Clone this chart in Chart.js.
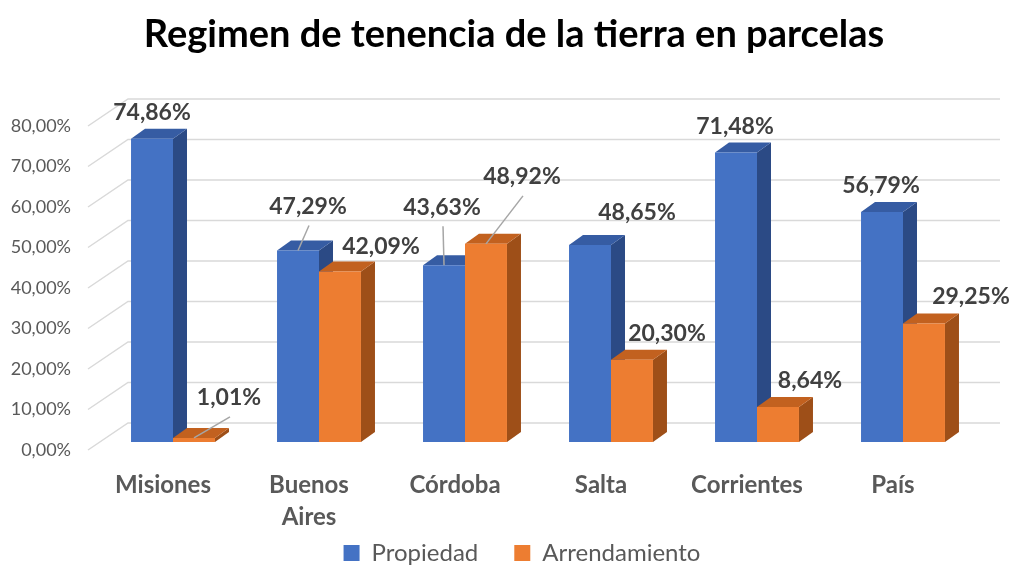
<!DOCTYPE html>
<html lang="es">
<head>
  <meta charset="UTF-8">
  <title>Regimen de tenencia de la tierra en parcelas</title>
  <style>
    body { margin: 0; background: #ffffff; }
    #wrap { width: 1015px; height: 566px; }
  </style>
  <script src="https://cdn.jsdelivr.net/npm/chart.js"></script>
</head>
<body>
  <div id="wrap"><canvas id="chart" width="1015" height="566"></canvas></div>
  <script>
    // data
    const provincias = ['Misiones', ['Buenos', 'Aires'], 'Córdoba', 'Salta', 'Corrientes', 'País'];
    const propiedad = [74.86, 47.29, 43.63, 48.65, 71.48, 56.79];
    const arrendamiento = [1.01, 42.09, 48.92, 20.30, 8.64, 29.25];
    const yTicks = [0, 10, 20, 30, 40, 50, 60, 70, 80];

    // where the data labels were dragged in the original (offset from bar top, px)
    const labelShift = [
      [[0, -26], [10, -44], [-2, -58], [47, -32], [-1, -26], [-1, -26]],
      [[35, -40], [41, -25], [36, -67], [35, -26], [32, -26], [47, -27]]
    ];
    const leader = [
      [false, true, true, false, false, false],
      [true, false, true, false, false, false]
    ];

    const FONT = 'Lato, "Open Sans", sans-serif';
    const DEPTH_X = 14, DEPTH_Y = -10;     // bar depth
    const WALL_X = 28, WALL_Y = -19;       // bar plane -> back wall
    const FRONT_X = -12, FRONT_Y = 8;      // bar plane -> front edge

    const faceColors = [
      { top: '#365ca3', side: '#2b4a85' },
      { top: '#c2611f', side: '#9e4f18' }
    ];

    const fmt = v => v.toFixed(2).replace('.', ',') + '%';

    const fake3d = {
      id: 'fake3d',
      afterLayout(chart) {
        // title and legend sit a bit right of centre in the original,
        // and the legend is pulled up over the spare bottom padding
        chart.titleBlock.left += 52;
        chart.legend.left += 68;
        chart.legend.top -= 37;
        chart.legend.bottom -= 37;
      },
      beforeDatasetsDraw(chart) {
        const ctx = chart.ctx;
        const area = chart.chartArea;
        const y = chart.scales.y;
        ctx.save();
        ctx.strokeStyle = '#d9d9d9';
        ctx.lineWidth = 1.5;
        yTicks.forEach(t => {
          const py = y.getPixelForValue(t);
          ctx.beginPath();
          ctx.moveTo(area.left + FRONT_X, py + FRONT_Y);
          ctx.lineTo(area.left + WALL_X, py + WALL_Y);
          ctx.lineTo(area.right + 24, py + WALL_Y);
          ctx.stroke();
        });
        // side and top faces, behind the front faces
        chart.data.datasets.forEach((ds, di) => {
          chart.getDatasetMeta(di).data.forEach(bar => {
            const l = bar.x - bar.width / 2, r = bar.x + bar.width / 2;
            ctx.fillStyle = faceColors[di].side;
            ctx.beginPath();
            ctx.moveTo(r, bar.y);
            ctx.lineTo(r + DEPTH_X, bar.y + DEPTH_Y);
            ctx.lineTo(r + DEPTH_X, bar.base + DEPTH_Y);
            ctx.lineTo(r, bar.base);
            ctx.closePath();
            ctx.fill();
            ctx.fillStyle = faceColors[di].top;
            ctx.beginPath();
            ctx.moveTo(l, bar.y);
            ctx.lineTo(l + DEPTH_X, bar.y + DEPTH_Y);
            ctx.lineTo(r + DEPTH_X, bar.y + DEPTH_Y);
            ctx.lineTo(r, bar.y);
            ctx.closePath();
            ctx.fill();
          });
        });
        ctx.restore();
      },
      afterDatasetsDraw(chart) {
        const ctx = chart.ctx;
        ctx.save();
        ctx.font = 'bold 23px ' + FONT;
        ctx.textAlign = 'center';
        ctx.textBaseline = 'middle';
        chart.data.datasets.forEach((ds, di) => {
          chart.getDatasetMeta(di).data.forEach((bar, i) => {
            const [dx, dy] = labelShift[di][i];
            const lx = bar.x + dx, ly = bar.y + dy;
            if (leader[di][i]) {
              ctx.strokeStyle = '#a6a6a6';
              ctx.lineWidth = 1.5;
              ctx.beginPath();
              ctx.moveTo(lx + 1, ly + 19);
              ctx.lineTo(bar.x, bar.y);
              ctx.stroke();
            }
            ctx.fillStyle = '#404040';
            ctx.fillText(fmt(ds.data[i]), lx, ly);
          });
        });
        ctx.restore();
      }
    };

    new Chart(document.getElementById('chart'), {
      type: 'bar',
      data: {
        labels: provincias,
        datasets: [
          { label: 'Propiedad', data: propiedad, backgroundColor: '#4472c4' },
          { label: 'Arrendamiento', data: arrendamiento, backgroundColor: '#ed7d31' }
        ]
      },
      options: {
        responsive: false,
        animation: false,
        layout: { padding: { left: 0, right: 39, top: 0, bottom: -46 } },
        datasets: { bar: { categoryPercentage: 0.575, barPercentage: 1.0 } },
        plugins: {
          title: {
            display: true,
            text: 'Regimen de tenencia de la tierra en parcelas',
            color: '#000000',
            font: { family: FONT, size: 38, weight: 'bold' },
            padding: { top: 12, bottom: 60.4 }
          },
          legend: {
            position: 'bottom',
            labels: {
              color: '#595959',
              font: { family: FONT, size: 24 },
              boxWidth: 16,
              boxHeight: 16,
              padding: 36
            }
          },
          tooltip: { enabled: false }
        },
        scales: {
          x: {
            grid: { display: false, drawTicks: false },
            border: { display: false },
            ticks: {
              color: '#595959',
              font: { family: FONT, size: 24, weight: 'bold', lineHeight: 1.35 },
              padding: 27,
              labelOffset: -10,
              maxRotation: 0
            },
            afterFit(s) { s.height = 100; }
          },
          y: {
            min: 0,
            max: 80,
            grid: { display: false, drawTicks: false },
            border: { display: false },
            ticks: {
              stepSize: 10,
              color: '#595959',
              font: { family: FONT, size: 18 },
              padding: 29,
              labelOffset: 8,
              callback: v => fmt(v)
            },
            afterFit(s) { s.width = 100; }
          }
        }
      },
      plugins: [fake3d]
    });
  </script>
</body>
</html>
